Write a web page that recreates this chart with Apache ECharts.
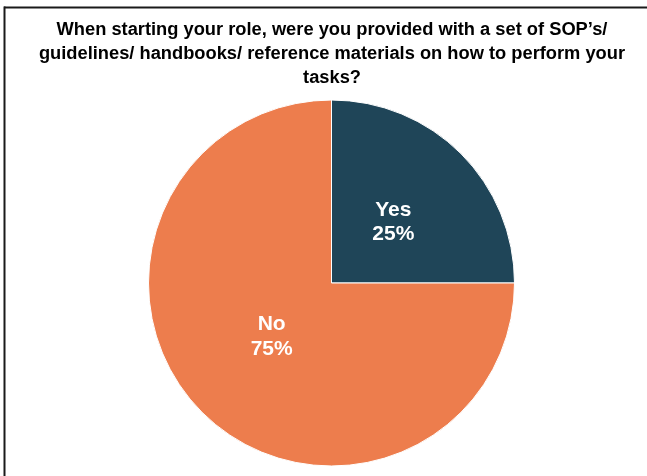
<!DOCTYPE html>
<html>
<head>
<meta charset="utf-8">
<script src="https://cdn.jsdelivr.net/npm/echarts@6/dist/echarts.min.js"></script>
<style>
  html, body { margin: 0; padding: 0; background: #fff; }
  #chart { width: 647px; height: 476px; }
</style>
</head>
<body>
<div id="chart"></div>
<script>
// Survey answers and their shares (percent)
const answers = ['Yes', 'No'];
const shares = [25, 75];
const sliceColors = ['#1F4558', '#ED7D4D'];
// Nudges that pull the in-slice labels slightly toward the centre
const labelOffsets = [[-5, 6], [7, -13]];

const titleText = 'When starting your role, were you provided with a set of SOP\u2019s/\nguidelines/ handbooks/ reference materials on how to perform your\ntasks?';

const chart = echarts.init(document.getElementById('chart'), null, { renderer: 'canvas' });

chart.setOption({
  backgroundColor: '#ffffff',
  animation: false,
  title: {
    text: titleText,
    left: 327,
    textAlign: 'center',
    top: 13,
    textStyle: {
      fontFamily: 'Liberation Sans, Arial, sans-serif',
      fontWeight: 'bold',
      fontSize: 18.3,
      lineHeight: 24,
      color: '#000000',
      align: 'center'
    }
  },
  graphic: [
    {
      type: 'line',
      shape: { x1: 4, y1: 7.5, x2: 647, y2: 7.5 },
      style: { stroke: '#1a1a1a', lineWidth: 2 }
    },
    {
      type: 'line',
      shape: { x1: 4.5, y1: 6.5, x2: 4.5, y2: 476 },
      style: { stroke: '#1a1a1a', lineWidth: 2 }
    }
  ],
  series: [
    {
      type: 'pie',
      center: [331.5, 283],
      radius: 183,
      startAngle: 90,
      clockwise: true,
      silent: true,
      itemStyle: { borderColor: '#ffffff', borderWidth: 1 },
      label: {
        show: true,
        position: 'inside',
        formatter: '{b}\n{c}%',
        color: '#ffffff',
        fontFamily: 'Liberation Sans, Arial, sans-serif',
        fontWeight: 'bold',
        fontSize: 21,
        lineHeight: 24.5
      },
      labelLine: { show: false },
      data: answers.map((name, i) => ({
        name: name,
        value: shares[i],
        itemStyle: { color: sliceColors[i] },
        label: { offset: labelOffsets[i] }
      }))
    }
  ]
});
</script>
</body>
</html>
